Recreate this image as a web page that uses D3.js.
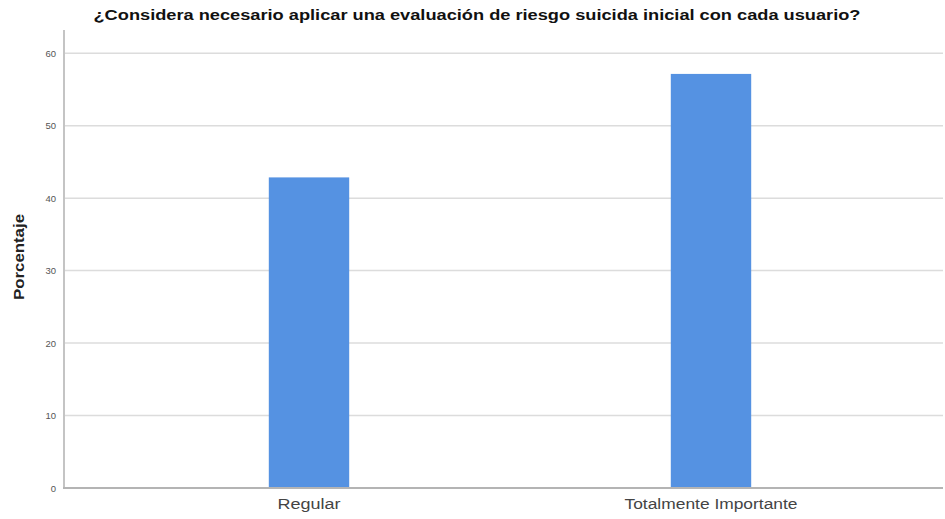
<!DOCTYPE html>
<html>
<head>
<meta charset="utf-8">
<script src="https://cdn.jsdelivr.net/npm/d3@7"></script>
<style>
  html, body { margin: 0; padding: 0; background: #fff; }
  svg { display: block; font-family: "Liberation Sans", Arial, sans-serif; }
</style>
</head>
<body>
<svg id="chart" width="945" height="519"></svg>
<script>
// Respuestas a la pregunta (porcentaje de encuestados)
const categories = ["Regular", "Totalmente Importante"];
const percentages = [42.86, 57.14];
const yTicks = [0, 10, 20, 30, 40, 50, 60];
const chartTitle = "¿Considera necesario aplicar una evaluación de riesgo suicida inicial con cada usuario?";
const yAxisTitle = "Porcentaje";

const svg = d3.select("#chart");

// Plot area
const plotLeft = 64, plotRight = 943, plotTop = 30, plotBottom = 488;

const y = d3.scaleLinear().domain([0, 63.2]).range([plotBottom, plotTop]);
const x = d3.scaleBand()
  .domain(categories)
  .range([108, 912])
  .paddingInner(0.8)
  .paddingOuter(0.4);

// Horizontal gridlines
svg.append("g")
  .selectAll("line")
  .data(yTicks.filter(t => t > 0))
  .join("line")
  .attr("x1", plotLeft)
  .attr("x2", plotRight)
  .attr("y1", d => y(d))
  .attr("y2", d => y(d))
  .attr("stroke", "#dcdcdc")
  .attr("stroke-width", 1.5);

// Bars
svg.append("g")
  .selectAll("rect")
  .data(categories.map((c, i) => ({ c, v: percentages[i] })))
  .join("rect")
  .attr("x", d => x(d.c))
  .attr("width", x.bandwidth())
  .attr("y", d => y(d.v))
  .attr("height", d => y(0) - y(d.v))
  .attr("fill", "#5592e2");

// Y axis
const yAxis = svg.append("g")
  .attr("transform", `translate(${plotLeft},0)`)
  .call(d3.axisLeft(y).tickValues(yTicks).tickSize(0).tickPadding(8));
yAxis.select(".domain").remove();
yAxis.selectAll("text")
  .attr("fill", "#555")
  .attr("font-size", 9.5)
  .attr("font-family", "Liberation Sans, Arial, sans-serif");

svg.append("line")
  .attr("x1", plotLeft).attr("x2", plotLeft)
  .attr("y1", plotTop).attr("y2", plotBottom)
  .attr("stroke", "#c4c4c4").attr("stroke-width", 2);

// X axis
const labelWidths = { "Regular": 63, "Totalmente Importante": 173 };
const xAxis = svg.append("g")
  .attr("transform", `translate(0,${plotBottom})`)
  .call(d3.axisBottom(x).tickSize(0).tickPadding(11));
xAxis.select(".domain").remove();
xAxis.selectAll("text")
  .attr("fill", "#444")
  .attr("font-size", 14)
  .attr("font-family", "Liberation Sans, Arial, sans-serif")
  .attr("textLength", d => labelWidths[d])
  .attr("lengthAdjust", "spacingAndGlyphs");

svg.append("line")
  .attr("x1", plotLeft - 1).attr("x2", plotRight)
  .attr("y1", plotBottom).attr("y2", plotBottom)
  .attr("stroke", "#b4b4b4").attr("stroke-width", 2);

// Title
svg.append("text")
  .attr("x", 477)
  .attr("y", 20)
  .attr("text-anchor", "middle")
  .attr("font-size", 14)
  .attr("font-weight", "bold")
  .attr("fill", "#111")
  .attr("textLength", 767)
  .attr("lengthAdjust", "spacingAndGlyphs")
  .text(chartTitle);

// Y axis title
svg.append("text")
  .attr("transform", `translate(24,257) rotate(-90)`)
  .attr("text-anchor", "middle")
  .attr("font-size", 14)
  .attr("font-weight", "bold")
  .attr("fill", "#222")
  .attr("textLength", 86)
  .attr("lengthAdjust", "spacingAndGlyphs")
  .text(yAxisTitle);
</script>
</body>
</html>
